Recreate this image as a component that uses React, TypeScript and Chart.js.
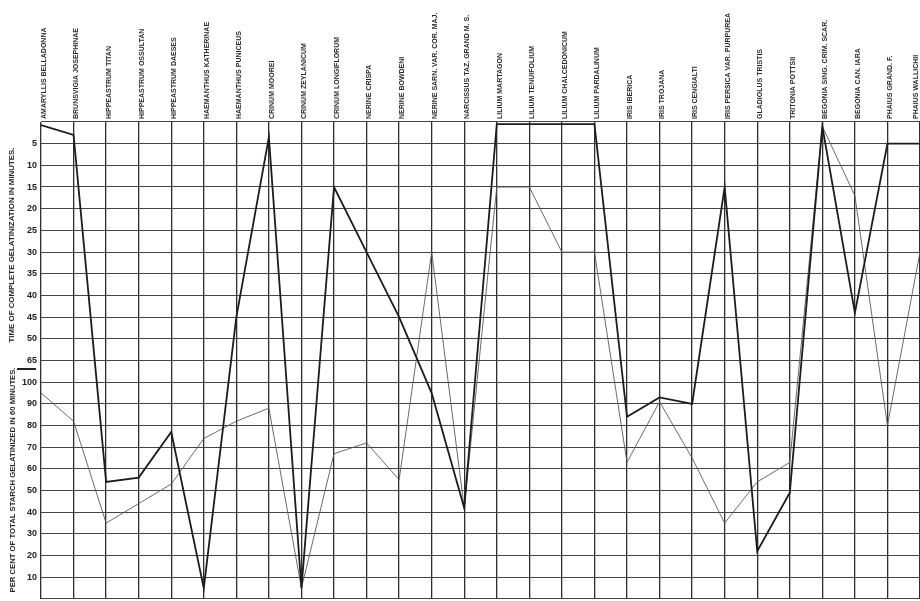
import React, { useEffect, useRef } from "react";
import { Chart, registerables } from "chart.js";

Chart.register(...registerables);

// Species (column headers)
const categories = [
  "AMARYLLIS BELLADONNA",
  "BRUNSVIGIA JOSEPHINAE",
  "HIPPEASTRUM TITAN",
  "HIPPEASTRUM OSSULTAN",
  "HIPPEASTRUM DAESES",
  "HAEMANTHUS KATHERINAE",
  "HAEMANTHUS PUNICEUS",
  "CRINUM MOOREI",
  "CRINUM ZEYLANICUM",
  "CRINUM LONGIFLORUM",
  "NERINE CRISPA",
  "NERINE BOWDENI",
  "NERINE SARN. VAR. COR. MAJ.",
  "NARCISSUS TAZ. GRAND M. S.",
  "LILIUM MARTAGON",
  "LILIUM TENUIFOLIUM",
  "LILIUM CHALCEDONICUM",
  "LILIUM PARDALINUM",
  "IRIS IBERICA",
  "IRIS TROJANA",
  "IRIS CENGIALTI",
  "IRIS PERSICA VAR. PURPUREA",
  "GLADIOLUS TRISTIS",
  "TRITONIA POTTSII",
  "BEGONIA SING. CRIM. SCAR.",
  "BEGONIA CAN. IARA",
  "PHAIUS GRAND. F.",
  "PHAIUS WALLICHII",
];

// Heavy line: minutes to complete gelatinization (upper panel) or,
// where not complete, per cent gelatinized in 60 minutes (lower panel)
const heavyMinutes = [0.7, 3, null, null, null, null, 45, 3.5, null, 15, 30, 45, null, null, 0.5, 0.5, 0.5, 0.5, null, null, null, 15, null, null, 1, 44, 5, 5];
const heavyPercent = [null, null, 54, 56, 77, 5, null, null, 5, null, null, null, 95, 42, null, null, null, null, 84, 93, 90, null, 22, 49, null, null, null, null];

// Light line
const lightMinutes = [null, null, null, null, null, null, null, null, null, null, null, null, 30, null, 15, 15, 30, 30, null, null, null, null, null, null, 1, 17, null, 30];
const lightPercent = [95, 82, 35, 44, 53, 74, 82, 88, 5, 67, 72, 55, null, 42, null, null, null, null, 63, 91, 65, 35, 54, 63, null, null, 80, null];

// Tick labels
const percentTicks = [10, 20, 30, 40, 50, 60, 70, 80, 90, 100];
const minuteTicks = [5, 10, 15, 20, 25, 30, 35, 40, 45, 50];
const extraMinuteTick = 65;

const titleMinutes = "TIME OF COMPLETE GELATINIZATION IN MINUTES.";
const titlePercent = "PER CENT OF TOTAL STARCH GELATINIZED IN 60 MINUTES.";

// Combined vertical axis: 0..100 = per cent, above it the minute panel (inverted)
const PANEL_TOP = 220;
const minutesToAxis = (m: number) =>
  m <= 50 ? PANEL_TOP - 2 * m : 120 - ((m - 50) * 10) / 15;

const toPoints = (mins: (number | null)[], pcts: (number | null)[]) =>
  mins.map((m, i) => ({
    x: i,
    y: m != null ? minutesToAxis(m) : (pcts[i] as number),
  }));

export default function App() {
  const ref = useRef<HTMLCanvasElement | null>(null);

  useEffect(() => {
    if (!ref.current) return;

    const tickLabelMap = new Map<number, string>();
    percentTicks.forEach((p) => tickLabelMap.set(p, String(p)));
    minuteTicks.forEach((m) => tickLabelMap.set(minutesToAxis(m), String(m)));
    tickLabelMap.set(110, String(extraMinuteTick));
    const tickPositions: number[] = [];
    for (let v = 0; v <= PANEL_TOP; v += 10) tickPositions.push(v);

    const decor = {
      id: "decor",
      beforeDraw(chart: any) {
        const c = chart.ctx;
        c.save();
        c.fillStyle = "#ffffff";
        c.fillRect(0, 0, chart.width, chart.height);
        c.restore();
      },
      afterDraw(chart: any) {
        const c = chart.ctx;
        const xs = chart.scales.x;
        const top = chart.chartArea.top;
        c.save();
        // column headers
        c.fillStyle = "#2a2a2a";
        c.font = "bold 7px 'Liberation Sans', Arial, sans-serif";
        c.textAlign = "left";
        c.textBaseline = "middle";
        categories.forEach((lab, i) => {
          const x = Math.min(xs.getPixelForValue(i) + 3, chart.width - 4);
          c.save();
          c.translate(x, top - 3);
          c.rotate(-Math.PI / 2);
          c.fillText(lab, 0, 0);
          c.restore();
        });
        // axis titles
        const drawTitle = (t: string, cx: number, cy: number, len: number) => {
          c.save();
          c.font = "bold 7px 'Liberation Sans', Arial, sans-serif";
          c.textAlign = "center";
          c.textBaseline = "middle";
          const w = c.measureText(t).width;
          c.translate(cx, cy);
          c.rotate(-Math.PI / 2);
          c.scale(len / w, 1);
          c.fillText(t, 0, 0);
          c.restore();
        };
        drawTitle(titleMinutes, 12, 245, 195);
        drawTitle(titlePercent, 13, 480, 225);
        // separator dash between panels
        c.strokeStyle = "#222";
        c.lineWidth = 2;
        c.beginPath();
        c.moveTo(17, 369);
        c.lineTo(36, 369);
        c.stroke();
        c.restore();
      },
    };

    const chart = new Chart(ref.current, {
      type: "line",
      data: {
        datasets: [
          {
            label: "heavy",
            data: toPoints(heavyMinutes, heavyPercent),
            borderColor: "#1c1c1c",
            borderWidth: 1.8,
            pointRadius: 0,
            tension: 0,
          },
          {
            label: "light",
            data: toPoints(lightMinutes, lightPercent),
            borderColor: "#5a5a5a",
            borderWidth: 0.9,
            pointRadius: 0,
            tension: 0,
          },
        ],
      },
      options: {
        animation: false,
        responsive: false,
        maintainAspectRatio: false,
        devicePixelRatio: 1,
        layout: { padding: { top: 122, left: 0, right: 0, bottom: 2 } },
        plugins: {
          legend: { display: false },
          tooltip: { enabled: false },
          title: { display: false },
        },
        scales: {
          x: {
            type: "linear",
            min: 0,
            max: categories.length - 1,
            ticks: { display: false, stepSize: 1 },
            grid: { color: "#2e2e2e", lineWidth: 1.3, drawTicks: false },
            border: { display: false },
            afterFit: (s: any) => {
              s.height = 0;
              s.paddingLeft = 0;
              s.paddingRight = 0;
            },
          },
          y: {
            type: "linear",
            min: 0,
            max: PANEL_TOP,
            afterBuildTicks: (s: any) => {
              s.ticks = tickPositions.map((v) => ({ value: v }));
            },
            afterFit: (s: any) => {
              s.width = 41;
              s.paddingTop = 0;
              s.paddingBottom = 0;
            },
            ticks: {
              autoSkip: false,
              padding: 4,
              color: "#222",
              font: { family: "'Liberation Sans', Arial, sans-serif", size: 9, weight: "bold" },
              callback: (v: any) => tickLabelMap.get(Number(v)) ?? "",
            },
            grid: { color: "#444", lineWidth: 1.1, drawTicks: false },
            border: { display: false },
          },
        },
      },
      plugins: [decor],
    } as any);

    return () => chart.destroy();
  }, []);

  return (
    <div style={{ position: "absolute", left: 0, top: 0, width: 920, height: 601, overflow: "hidden", background: "#fff" }}>
      <canvas ref={ref} width={920} height={601} style={{ display: "block", width: 920, height: 601 }} />
    </div>
  );
}
